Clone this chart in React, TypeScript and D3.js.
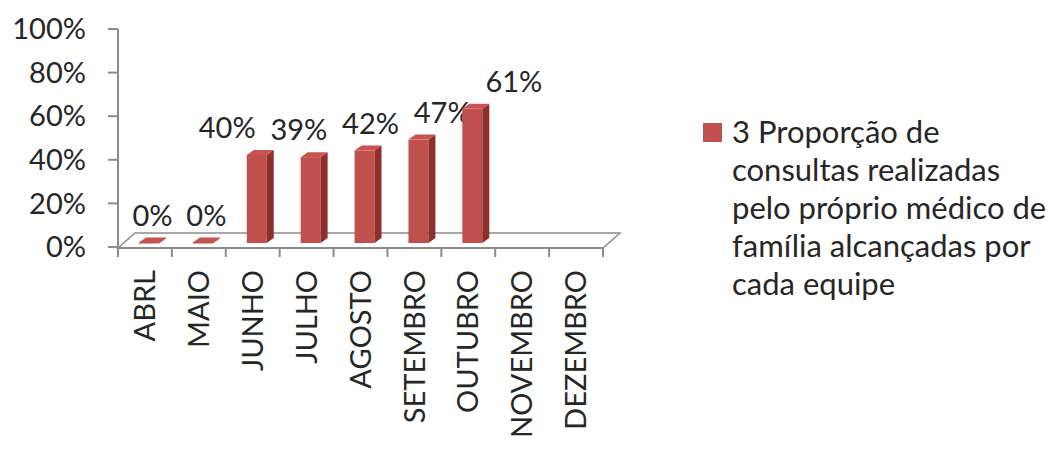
import React from "react";
import * as d3 from "d3";

const categories = ["ABRL", "MAIO", "JUNHO", "JULHO", "AGOSTO", "SETEMBRO", "OUTUBRO", "NOVEMBRO", "DEZEMBRO"];
const values: (number | null)[] = [0, 0, 40, 39, 42, 47, 61, null, null];
const yTicks = [0, 20, 40, 60, 80, 100];
const seriesName = "3 Proporção de consultas realizadas pelo próprio médico de família alcançadas por cada equipe";
const legendLines = ["3 Proporção de", "consultas realizadas", "pelo próprio médico de", "família alcançadas por", "cada equipe"];

const FONT = "Lato, 'Open Sans', sans-serif";
const FRONT = "#C0504D";
const SIDE = "#8C2F2D";
const TOP = "#C8534F";
const AXIS = "#8c8c8c";
const TXT = "#262626";

export default function App() {
  const x = d3.scaleBand<string>().domain(categories).range([118, 603]).padding(0);
  const yAxis = d3.scaleLinear().domain([0, 100]).range([247, 29]);
  const yBar = d3.scaleLinear().domain([0, 100]).range([243, 23]);
  const bw = x.bandwidth();
  const dx = 7;
  const dy = -5;
  const cx = (118 + 603) / 2;

  return (
    <svg width={1062} height={450} style={{ position: "absolute", left: 0, top: 0, background: "#fff" }} fontFamily={FONT}>
      {/* floor */}
      <path
        d={`M118,248 L603,248 L${603 + 17},233 L${118 + 17},233 Z`}
        fill="#fff"
        stroke={AXIS}
        strokeWidth={1.5}
      />
      {/* y axis */}
      <line x1={118} x2={118} y1={yAxis(100)} y2={257} stroke={AXIS} strokeWidth={2} />
      {yTicks.map((t) => (
        <g key={t}>
          <line x1={108} x2={118} y1={yAxis(t)} y2={yAxis(t)} stroke={AXIS} strokeWidth={2} />
          <text x={86} y={yAxis(t)} dy="0.35em" textAnchor="end" fontSize={29} fill={TXT}>
            {t}%
          </text>
        </g>
      ))}
      {/* x axis ticks */}
      <line x1={118} x2={603} y1={248} y2={248} stroke={AXIS} strokeWidth={2} />
      {[...categories.map((c) => x(c)!), 603].map((px, i) => (
        <line key={i} x1={px} x2={px} y1={248} y2={257} stroke={AXIS} strokeWidth={2} />
      ))}
      {categories.map((c) => {
        const cxl = x(c)! + bw / 2;
        return (
          <text
            key={c}
            transform={`translate(${cxl},270) rotate(-90)`}
            textAnchor="end"
            dy="0.35em"
            fontSize={29}
            fill={TXT}
          >
            {c}
          </text>
        );
      })}
      {/* bars */}
      {categories.map((c, i) => {
        const v = values[i];
        if (v === null) return null;
        const x0 = x(c)! + bw * 0.39;
        const w = bw * 0.37;
        const yb = yBar(0);
        const yt = yBar(v);
        const top = `M${x0},${yt} L${x0 + w},${yt} L${x0 + w + dx},${yt + dy} L${x0 + dx},${yt + dy} Z`;
        const side = `M${x0 + w},${yt} L${x0 + w + dx},${yt + dy} L${x0 + w + dx},${yb + dy} L${x0 + w},${yb} Z`;
        const barCenter = x0 + w / 2 + dx / 2;
        const shift = (barCenter - cx) * 0.33 * Math.min(1, v / 20);
        return (
          <g key={c}>
            {v > 0 && <rect x={x0} y={yt} width={w} height={yb - yt} fill={FRONT} />}
            {v > 0 && <path d={side} fill={SIDE} />}
            <path d={top} fill={TOP} stroke={v === 0 ? FRONT : "none"} strokeWidth={1} />
            <text x={barCenter + shift} y={yt - 17} textAnchor="middle" fontSize={29} fill={TXT}>
              {v}%
            </text>
          </g>
        );
      })}
      {/* legend */}
      <g aria-label={seriesName}>
        <rect x={703} y={123} width={19} height={19} fill={FRONT} />
        {legendLines.map((l, i) => (
          <text key={i} x={732} y={143 + i * 38} fontSize={31} fill={TXT}>
            {l}
          </text>
        ))}
      </g>
    </svg>
  );
}
